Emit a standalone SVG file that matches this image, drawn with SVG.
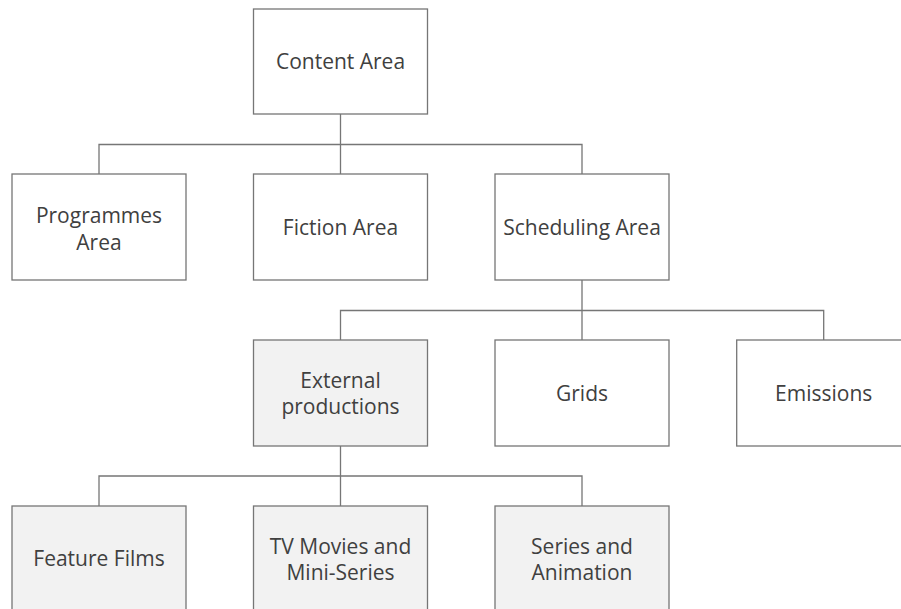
<svg xmlns="http://www.w3.org/2000/svg" width="901" height="609" viewBox="0 0 901 609">
  <style>
    .box { fill: #ffffff; stroke: #767676; stroke-width: 1.3; }
    .box.shaded { fill: #f2f2f2; }
    .lbl { font-family: "Open Sans", "Liberation Sans", sans-serif; font-size: 21px; fill: #404040; text-anchor: middle; }
    .wire { fill: none; stroke: #767676; stroke-width: 1.3; }
  </style>
  <rect width="901" height="609" fill="#ffffff"/>

  <!-- connectors -->
  <g id="connectors">
    <path class="wire" d="M340.5 114 V144.5 M99 174 V144.5 H582 V174 M340.5 144.5 V174"/>
    <path class="wire" d="M582 280 V310.5 M340.5 340 V310.5 H823.7 V340 M582 310.5 V340"/>
    <path class="wire" d="M340.5 446 V476 M99 506 V476 H582 V506 M340.5 476 V506"/>
  </g>

  <!-- level 1 -->
  <g id="content-area">
    <rect class="box" x="253.5" y="9" width="174" height="105"/>
    <text class="lbl" x="340.5" y="69.3">Content Area</text>
  </g>

  <!-- level 2 -->
  <g id="programmes-area">
    <rect class="box" x="12" y="174" width="174" height="106"/>
    <text class="lbl" x="99" y="222.5">Programmes</text>
    <text class="lbl" x="99" y="249.5">Area</text>
  </g>
  <g id="fiction-area">
    <rect class="box" x="253.5" y="174" width="174" height="106"/>
    <text class="lbl" x="340.5" y="234.5">Fiction Area</text>
  </g>
  <g id="scheduling-area">
    <rect class="box" x="495" y="174" width="174" height="106"/>
    <text class="lbl" x="582" y="234.5">Scheduling Area</text>
  </g>

  <!-- level 3 -->
  <g id="external-productions">
    <rect class="box shaded" x="253.5" y="340" width="174" height="106"/>
    <text class="lbl" x="340.5" y="387.5">External</text>
    <text class="lbl" x="340.5" y="414">productions</text>
  </g>
  <g id="grids">
    <rect class="box" x="495" y="340" width="174" height="106"/>
    <text class="lbl" x="582" y="400.5">Grids</text>
  </g>
  <g id="emissions">
    <rect class="box" x="736.7" y="340" width="174" height="106"/>
    <text class="lbl" x="823.7" y="400.5">Emissions</text>
  </g>

  <!-- level 4 -->
  <g id="feature-films">
    <rect class="box shaded" x="12" y="506" width="174" height="106"/>
    <text class="lbl" x="99" y="566">Feature Films</text>
  </g>
  <g id="tv-movies">
    <rect class="box shaded" x="253.5" y="506" width="174" height="106"/>
    <text class="lbl" x="340.5" y="553.5">TV Movies and</text>
    <text class="lbl" x="340.5" y="580">Mini-Series</text>
  </g>
  <g id="series-animation">
    <rect class="box shaded" x="495" y="506" width="174" height="106"/>
    <text class="lbl" x="582" y="553.5">Series and</text>
    <text class="lbl" x="582" y="580">Animation</text>
  </g>
</svg>
